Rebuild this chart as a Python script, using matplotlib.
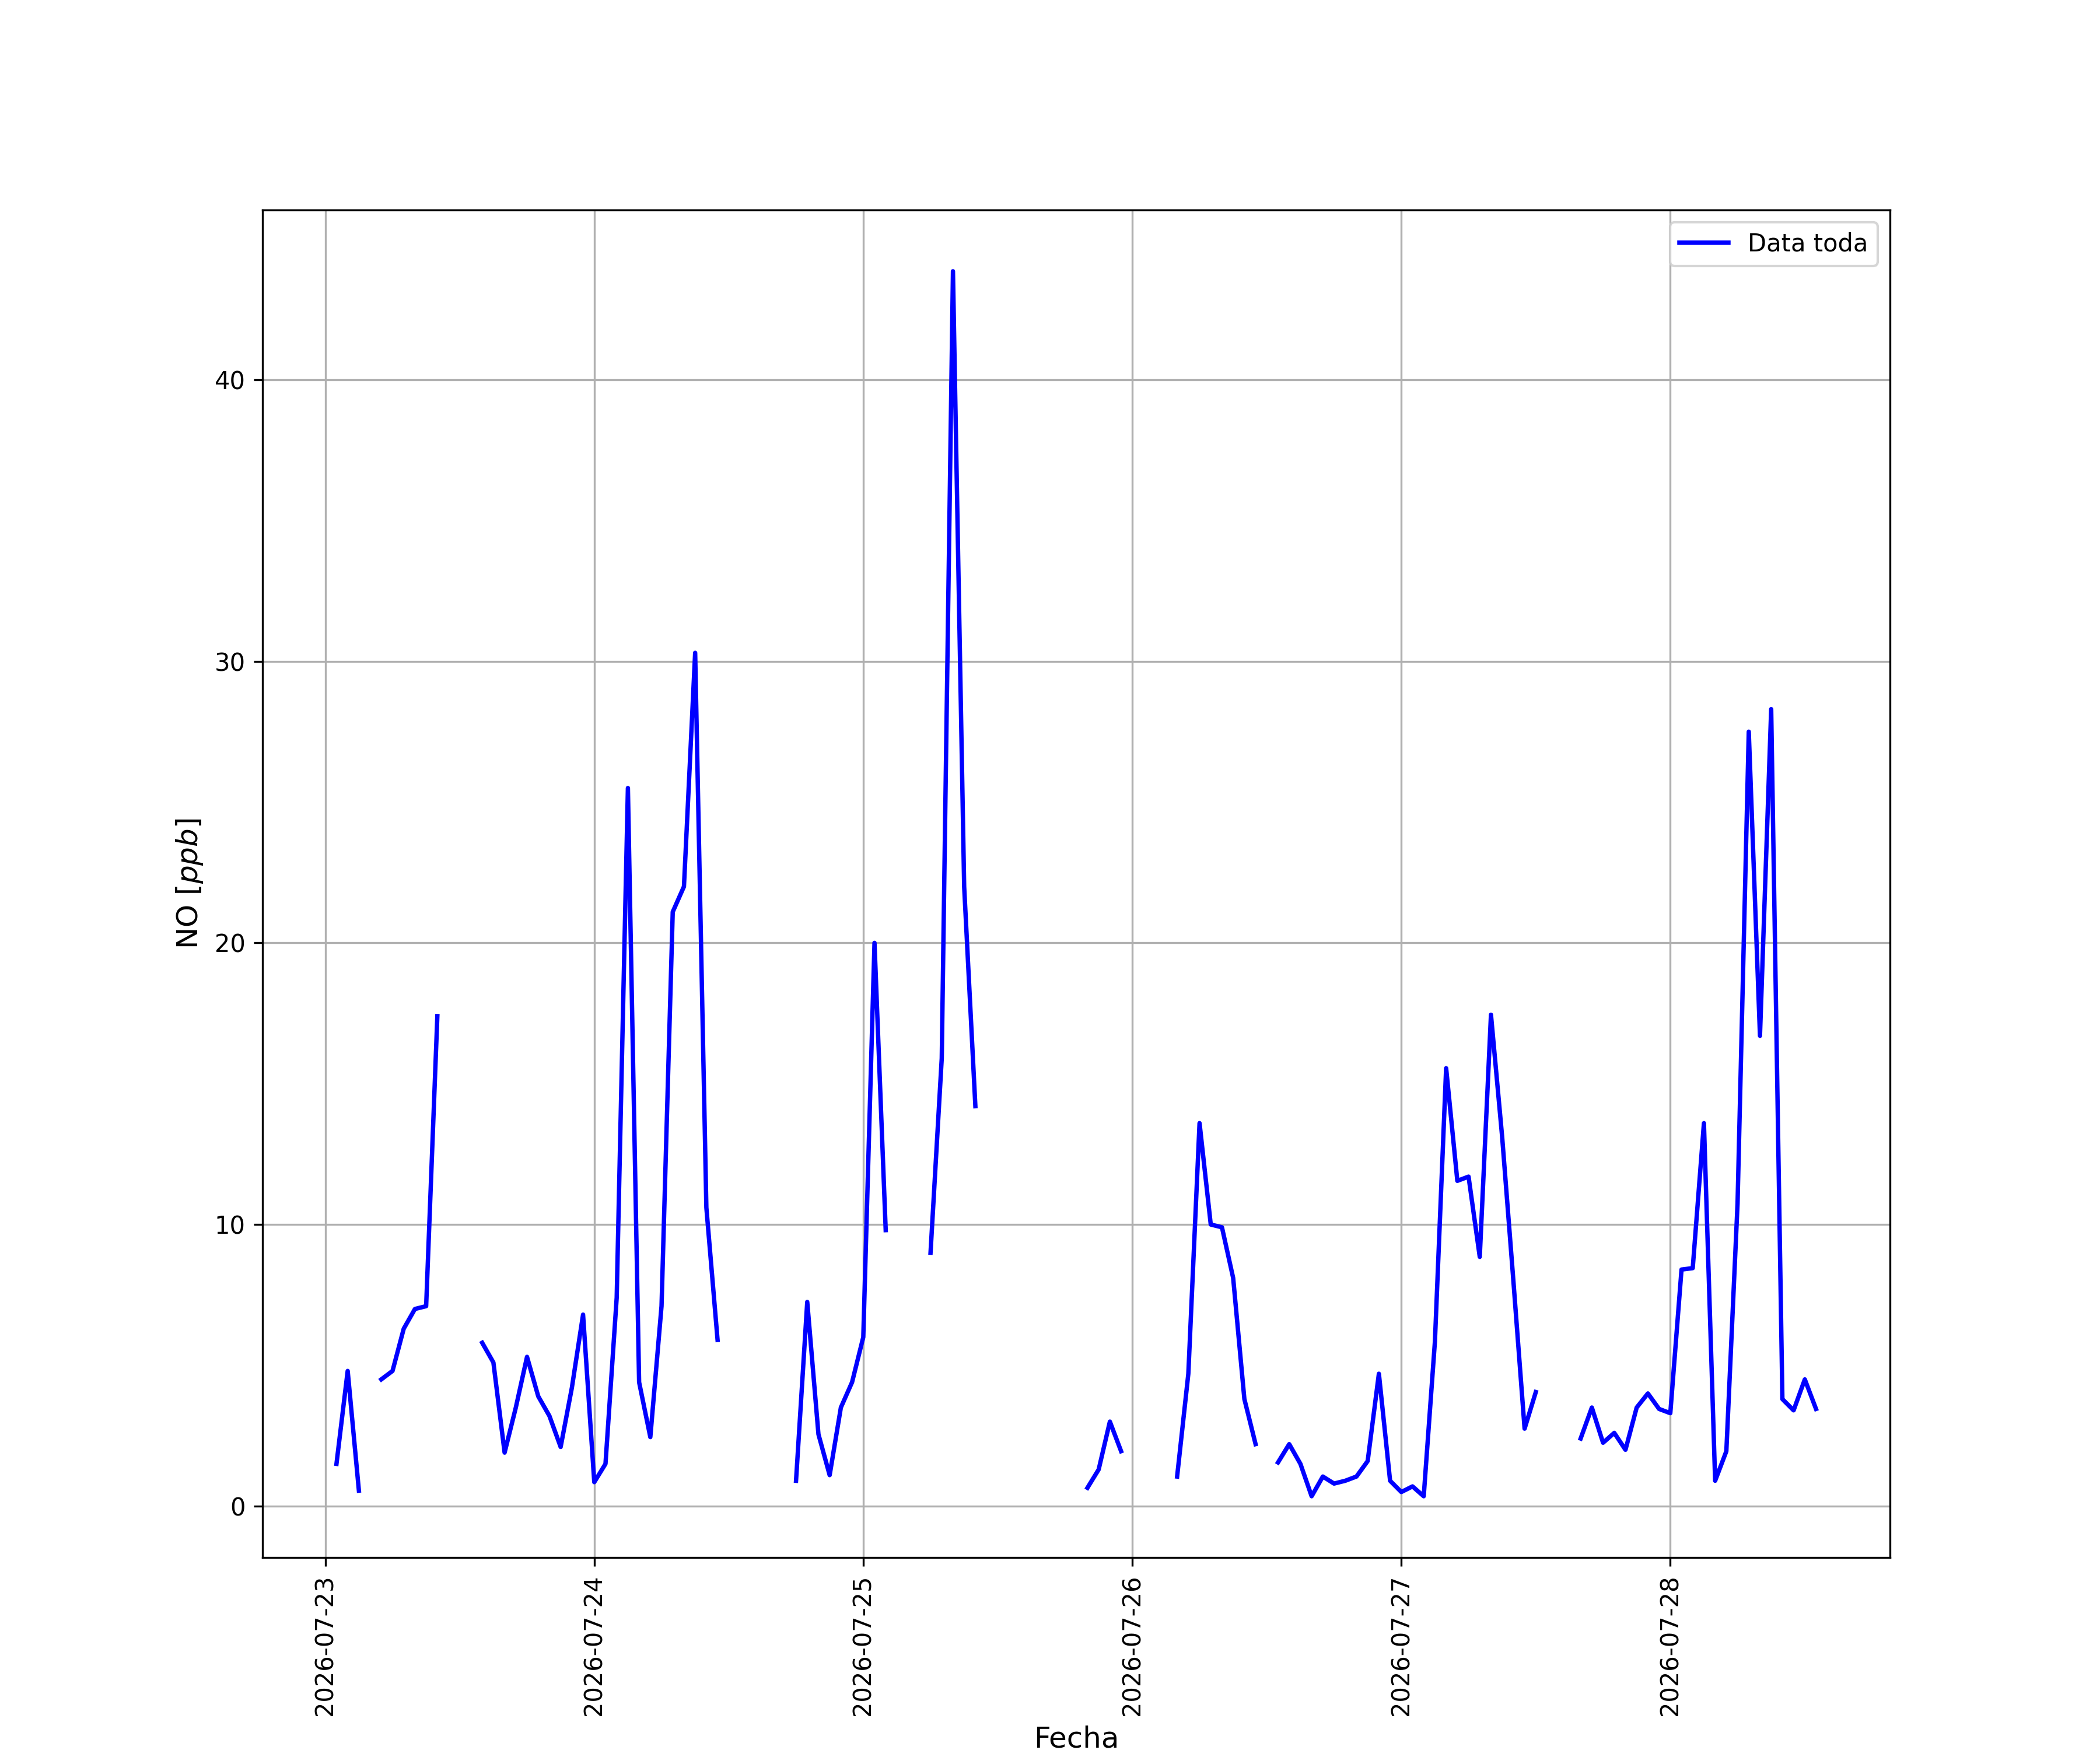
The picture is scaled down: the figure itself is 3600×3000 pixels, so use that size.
import numpy as np
import pandas as pd
import matplotlib
matplotlib.use("Agg")
import matplotlib.pyplot as plt

nan = np.nan

# NO horario [ppb], desde 2026-07-23 01:00 hasta 2026-07-28 13:00
dia_23 = [1.5, 4.8, 0.55, nan, 4.5, 4.8, 6.3, 7.0, 7.1, 17.4, nan, nan, nan,
          5.8, 5.1, 1.9, 3.5, 5.3, 3.9, 3.2, 2.1, 4.2, 6.8]
dia_24 = [0.85, 1.5, 7.4, 25.5, 4.4, 2.45, 7.1, 21.1, 22.0, 30.3, 10.6, 5.9,
          nan, nan, nan, nan, nan, nan, 0.9, 7.25, 2.55, 1.1, 3.5, 4.4]
dia_25 = [6.0, 20.0, 9.8, nan, nan, nan, 9.0, 15.9, 43.85, 22.0, 14.2, nan,
          nan, nan, nan, nan, nan, nan, nan, nan, 0.65, 1.3, 3.0, 1.95]
dia_26 = [nan, nan, nan, nan, 1.05, 4.7, 13.6, 10.0, 9.9, 8.1, 3.8, 2.2,
          nan, 1.55, 2.2, 1.5, 0.35, 1.05, 0.8, 0.9, 1.05, 1.6, 4.7, 0.9]
dia_27 = [0.5, 0.7, 0.35, 5.85, 15.55, 11.55, 11.7, 8.85, 17.45, 13.1, 8.0,
          2.75, 4.05, nan, nan, nan, 2.4, 3.5, 2.25, 2.6, 2.0, 3.5, 4.0, 3.45]
dia_28 = [3.3, 8.4, 8.45, 13.6, 0.9, 1.95, 10.75, 27.5, 16.7, 28.3, 3.8, 3.4,
          4.5, 3.45]

no_ppb = dia_23 + dia_24 + dia_25 + dia_26 + dia_27 + dia_28
fechas = pd.date_range("2026-07-23 01:00", periods=len(no_ppb), freq="h")

fig = plt.figure(figsize=(12, 10), dpi=300)
ax = fig.add_subplot(111)
ax.plot(fechas, no_ppb, color="blue", linewidth=1.8, label="Data toda")

ax.set_xlabel("Fecha", fontsize=12)
ax.set_ylabel("NO [$ppb$]", fontsize=12)
ax.grid(True)
ax.legend(loc="upper right")
plt.xticks(rotation=90)

fig.savefig("out.png", dpi=300)
